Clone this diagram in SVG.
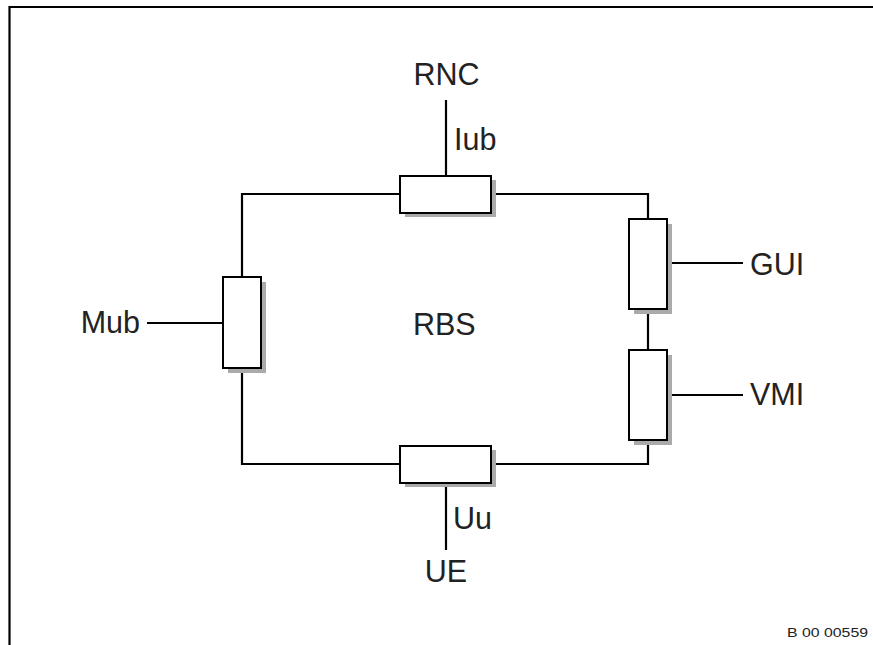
<svg xmlns="http://www.w3.org/2000/svg" width="873" height="645" viewBox="0 0 873 645">
<style>
.ln{stroke:#000;stroke-width:2.2;fill:none}
.box{fill:#fff;stroke:#000;stroke-width:2}
.sh{fill:#aaa}
.t{font-family:"Liberation Sans",Arial,sans-serif;font-size:30.5px;fill:#222}
.s{font-family:"Liberation Sans",Arial,sans-serif;font-size:13px;fill:#222}
</style>
<rect width="873" height="645" fill="#fff"/>
<g id="frame">
<path class="ln" d="M9.5,645 V7 H873"/>
</g>
<g id="connectors">
<path class="ln" d="M400,194 H242 V277 M242,368 V464 H400 M491,464 H648 V440 M648,350 V309 M648,219 V194 H491"/>
<path class="ln" d="M446,100 V176"/>
<path class="ln" d="M446,483 V550"/>
<path class="ln" d="M667,263 H743"/>
<path class="ln" d="M667,395 H743"/>
<path class="ln" d="M147,323 H223"/>
</g>
<g id="iub">
<rect class="sh" x="405" y="180" width="91" height="37"/>
<rect class="box" x="400" y="176" width="91" height="37"/>
</g>
<g id="uu">
<rect class="sh" x="405" y="450" width="91" height="37"/>
<rect class="box" x="400" y="446" width="91" height="37"/>
</g>
<g id="mub">
<rect class="sh" x="228" y="282" width="38" height="91"/>
<rect class="box" x="223" y="277" width="38" height="91"/>
</g>
<g id="gui">
<rect class="sh" x="634" y="224" width="38" height="90"/>
<rect class="box" x="629" y="219" width="38" height="90"/>
</g>
<g id="vmi">
<rect class="sh" x="634" y="355" width="38" height="90"/>
<rect class="box" x="629" y="350" width="38" height="90"/>
</g>
<g id="labels">
<text class="t" x="446.5" y="85" text-anchor="middle">RNC</text>
<text class="t" x="454" y="150">Iub</text>
<text class="t" x="413" y="335">RBS</text>
<text class="t" x="140" y="333" text-anchor="end">Mub</text>
<text class="t" x="750" y="275">GUI</text>
<text class="t" x="750" y="405">VMI</text>
<text class="t" x="453" y="529">Uu</text>
<text class="t" x="446" y="582" text-anchor="middle">UE</text>
<text class="s" x="787" y="637" textLength="81" lengthAdjust="spacingAndGlyphs">B 00 00559</text>
</g>
</svg>
